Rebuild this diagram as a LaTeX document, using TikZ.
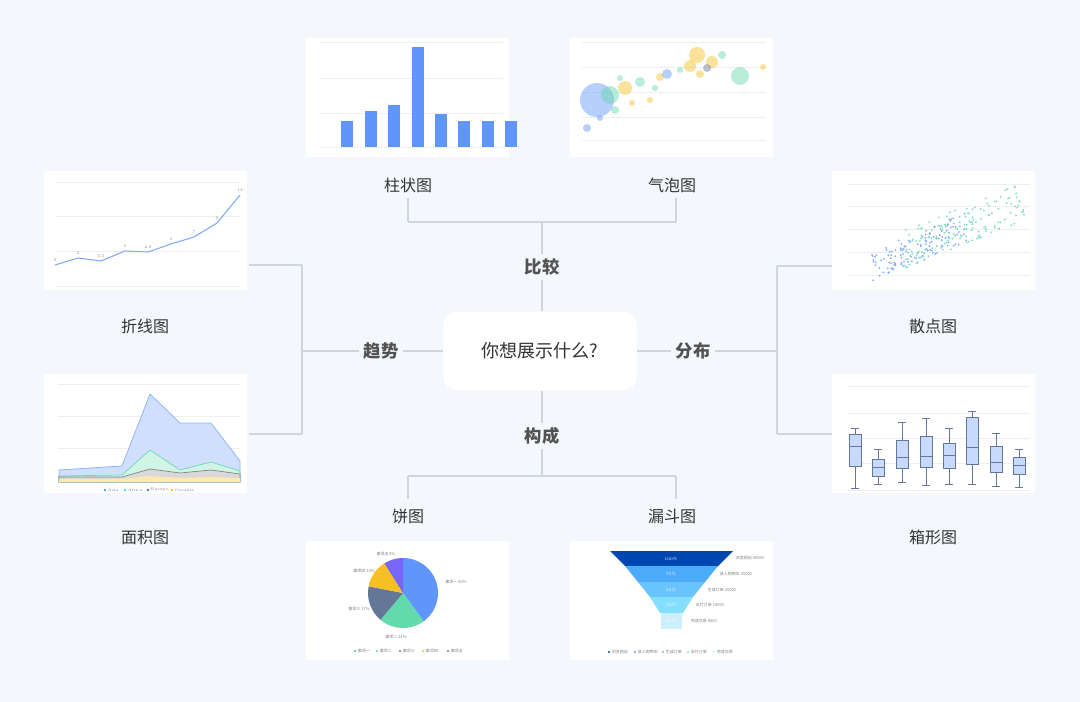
\documentclass[tikz,border=0pt]{standalone}
\usepackage{fontspec}
\newfontfamily\cjk{Noto Sans CJK SC}
\definecolor{bgc}{HTML}{F4F7FB}
\definecolor{linec}{HTML}{CFD5DC}
\definecolor{txt}{HTML}{333333}
\definecolor{cblue}{HTML}{6096FA}
\definecolor{cgreen}{HTML}{62DAAB}
\definecolor{cgray}{HTML}{657798}
\definecolor{cyellow}{HTML}{F6C022}
\definecolor{cpurple}{HTML}{7666F9}
\definecolor{grid}{HTML}{EEEEEE}
\tikzset{
  panel/.style={fill=white, draw=none},
  conn/.style={draw=linec, line width=0.9pt},
  cat/.style={font=\cjk\fontsize{13}{13}\selectfont\bfseries, text=txt!85, fill=bgc, inner sep=3pt},
  chartname/.style={font=\cjk\fontsize{12}{12}\selectfont, text=txt},
  tiny/.style={font=\fontsize{3}{3}\selectfont, text=gray, inner sep=0.5pt},
  tinycn/.style={font=\cjk\fontsize{3}{3}\selectfont, text=gray, inner sep=0.5pt},
}
\begin{document}
\begin{tikzpicture}[x=0.75pt, y=-0.75pt]
\fill[bgc] (0,0) rectangle (1080,702);
\useasboundingbox (0,0) rectangle (1080,702);

% panels
\foreach \px/\py in {306/38, 570/38, 44/171, 44/374, 832/171, 832/374, 306/541, 570/541}
  \fill[panel] (\px,\py) rectangle ++(203,119);

% centre and categories
\node[fill=white, rounded corners=10pt, minimum width=145pt, minimum height=59pt,
  font=\cjk\fontsize{13.5}{13.5}\selectfont, text=txt] (center) at (540,351) {你想展示什么?};
\node[cat] (cmp) at (542,267) {比较};
\node[cat] (comp) at (542,436) {构成};
\node[cat] (trend) at (381,351) {趋势};
\node[cat] (dist) at (693,351) {分布};

\node[chartname] (barlbl) at (408,185) {柱状图};
\node[chartname] (bublbl) at (672,185) {气泡图};
\node[chartname] (pielbl) at (408,516) {饼图};
\node[chartname] (funlbl) at (672,516) {漏斗图};
\node[chartname] (linelbl) at (145,326) {折线图};
\node[chartname] (arealbl) at (145,537) {面积图};
\node[chartname] (scatlbl) at (933,326) {散点图};
\node[chartname] (boxlbl) at (933,537) {箱形图};

\coordinate (tj) at (542,222);
\coordinate (tl) at (408,222); \coordinate (tr) at (676,222);
\coordinate (bj) at (542,476);
\coordinate (bl) at (408,476); \coordinate (br) at (676,476);
\coordinate (lj) at (302,351);
\coordinate (lt) at (302,265); \coordinate (lb) at (302,434);
\coordinate (rj) at (777,351);
\coordinate (rt) at (777,266); \coordinate (rb) at (777,434);

\draw[conn] (center.north -| cmp) -- (cmp.south);
\draw[conn] (cmp.north) -- (tj);
\draw[conn] (tl) -- (tr);
\draw[conn] (tl) -- (408,198);
\draw[conn] (tr) -- (676,198);
\draw[conn] (center.south -| comp) -- (comp.north);
\draw[conn] (comp.south) -- (bj);
\draw[conn] (bl) -- (br);
\draw[conn] (bl) -- (408,499);
\draw[conn] (br) -- (676,499);
\draw[conn] (center.west) -- (trend.east);
\draw[conn] (trend.west) -- (lj);
\draw[conn] (lt) -- (lb);
\draw[conn] (lt) -- (249,265);
\draw[conn] (lb) -- (249,434);
\draw[conn] (center.east) -- (dist.west);
\draw[conn] (dist.east) -- (rj);
\draw[conn] (rt) -- (rb);
\draw[conn] (rt) -- (832,266);
\draw[conn] (rb) -- (832,434);

% bar chart
\foreach \gy in {42,78,113,147} \draw[grid, line width=0.4pt] (320,\gy) -- (503,\gy);
\foreach[count=\i] \h in {121,111,105,47,114,121,121,121}
  \fill[cblue] ({318+23.4*\i},\h) rectangle ++(12,{147-\h});

% bubble chart
\foreach \gy in {42,67,92,117,140} \draw[grid, line width=0.4pt] (582,\gy) -- (766,\gy);
\foreach \bx/\by/\br/\bc in {597/100/17/cblue, 610/95/9/cgreen, 625/88/7/cyellow, 587/128/4/cblue,
  640/82/5/cgreen, 660/77/4/cyellow, 667/74/5/cblue, 690/66/6/cyellow, 697/55/8/cyellow,
  712/62/6/cyellow, 707/68/4/cgray, 740/76/9/cgreen, 680/70/3/cgreen, 722/55/4/cgreen,
  650/100/3/cyellow, 632/103/3/cyellow, 615/110/4/cgreen, 600/118/3/cblue, 763/67/3/cyellow,
  655/88/3/cgreen, 700/74/4/cyellow, 620/78/3/cgreen}
  \fill[\bc, opacity=0.45] (\bx,\by) circle (\br);

% line chart
\foreach \gy in {182,216,251,286} \draw[grid, line width=0.4pt] (55,\gy) -- (240,\gy);
\draw[cblue!80, line width=0.8pt] (55,265) -- (78,258) -- (101,261) -- (125,251) -- (148,252)
  -- (171,244) -- (194,237) -- (217,223) -- (240,195);
\foreach \lx/\ly/\lv in {55/265/3, 78/258/4, 101/261/3.5, 125/251/5, 148/252/4.8,
  171/244/6, 194/237/7, 217/223/9, 240/195/13}
  \node[tiny] (v\lx) at (\lx,{\ly-5}) {\lv};

% area chart
\foreach \gy in {384,416,448,481} \draw[grid, line width=0.4pt] (58,\gy) -- (240,\gy);
\fill[cblue!30, draw=cblue!70, line width=0.6pt] (59,470) -- (122,466) -- (150,394) -- (180,423) -- (211,423) -- (240,461) -- (240,482) -- (59,482) -- cycle;
\fill[cgreen!30, draw=cgreen, line width=0.5pt] (59,476) -- (122,475) -- (150,450) -- (180,470) -- (211,462) -- (240,471) -- (240,482) -- (59,482) -- cycle;
\fill[gray!30, draw=gray, line width=0.5pt] (59,477) -- (122,477) -- (150,469) -- (180,473) -- (211,470) -- (240,474) -- (240,482) -- (59,482) -- cycle;
\fill[cyellow!35] (59,479) -- (122,479) -- (150,476) -- (180,478) -- (211,477) -- (240,478) -- (240,482) -- (59,482) -- cycle;
\foreach \ax/\ac/\an in {105/cblue/Asia, 125/cgreen/Africa, 148/cgray/Europe, 172/cyellow/Oceania}
  {\fill[\ac] (\ax,490) circle (1.3); \node[tiny, anchor=west] (a\an) at ({\ax+2},490) {\an};}

% scatter chart
\foreach \gy in {184,206,229,252,275} \draw[grid, line width=0.4pt] (848,\gy) -- (1030,\gy);
\pgfmathsetseed{11}
\foreach \k in {1,...,130} {
  \pgfmathsetmacro\sx{872+95*rnd}
  \pgfmathsetmacro\sy{282-(\sx-870)*0.42-30*rnd}
  \fill[cblue!80] (\sx,\sy) circle (1);
}
\foreach \k in {1,...,150} {
  \pgfmathsetmacro\sx{905+120*rnd}
  \pgfmathsetmacro\sy{270-(\sx-900)*0.4-38*rnd}
  \fill[cgreen!85] (\sx,\sy) circle (1);
}

% box chart
\foreach \gy in {386,413,438,463,490} \draw[grid, line width=0.4pt] (848,\gy) -- (1030,\gy);
\foreach \bx/\wl/\ql/\md/\qh/\wh in {855/488/466/446/434/428, 878/484/476/467/459/449, 902/482/468/457/440/422,
  926/485/467/456/436/418, 949/484/468/455/443/428, 972/484/464/447/417/411, 996/486/472/462/446/433, 1019/487/474/465/457/449}
{
  \draw[cgray, line width=0.5pt] (\bx,\wl) -- (\bx,\ql) (\bx,\qh) -- (\bx,\wh)
    ({\bx-4},\wl) -- ({\bx+4},\wl) ({\bx-4},\wh) -- ({\bx+4},\wh);
  \filldraw[fill=cblue!35, draw=cgray, line width=0.5pt] ({\bx-6},\ql) rectangle ({\bx+6},\qh);
  \draw[cgray, line width=0.5pt] ({\bx-6},\md) -- ({\bx+6},\md);
}

% pie chart
\begin{scope}[shift={(403,593)}]
  \fill[cblue] (0,0) -- (0,-35) arc[start angle=-90, end angle=54, radius=35] -- cycle;
  \fill[cgreen] (0,0) -- (54:35) arc[start angle=54, end angle=130, radius=35] -- cycle;
  \fill[cgray] (0,0) -- (130:35) arc[start angle=130, end angle=191, radius=35] -- cycle;
  \fill[cyellow] (0,0) -- (191:35) arc[start angle=191, end angle=238, radius=35] -- cycle;
  \fill[cpurple] (0,0) -- (238:35) arc[start angle=238, end angle=270, radius=35] -- cycle;
\end{scope}
\node[tinycn] (p1) at (456,582) {事项一 40\%};
\node[tinycn] (p2) at (396,637) {事项二 21\%};
\node[tinycn] (p3) at (359,609) {事项三 17\%};
\node[tinycn] (p4) at (364,571) {事项四 13\%};
\node[tinycn] (p5) at (386,554) {事项五 9\%};
\foreach \lx/\lc/\ln in {355/cblue/事项一, 377/cgreen/事项二, 400/cgray/事项三, 423/cyellow/事项四, 448/cpurple/事项五}
  {\fill[\lc] (\lx,651) circle (1.2); \node[tinycn, anchor=west] (l\lx) at ({\lx+2},651) {\ln};}

% funnel chart
\fill[blue!60!cyan!70!black] (610,551) -- (733,551) -- (718,566) -- (625,566) -- cycle;
\fill[cblue!80!cyan] (625,566) -- (718,566) -- (705,582) -- (638,582) -- cycle;
\fill[cblue!70!cyan!80] (638,582) -- (705,582) -- (693,597) -- (650,597) -- cycle;
\fill[cblue!50!cyan!60] (650,597) -- (693,597) -- (683,613) -- (660,613) -- cycle;
\fill[cyan!20] (661,613) -- (682,613) -- (682,629) -- (661,629) -- cycle;
\foreach \fy/\fp in {559/100\%, 574/75\%, 590/50\%, 605/30\%, 621/10\%}
  \node[tiny, text=white] (f\fy) at (671,\fy) {\fp};
\node[tinycn, anchor=west] (fl1) at (735,558) {浏览网站 50000};
\node[tinycn, anchor=west] (fl2) at (719,574) {放入购物车 35000};
\node[tinycn, anchor=west] (fl3) at (707,590) {生成订单 25000};
\node[tinycn, anchor=west] (fl4) at (695,605) {支付订单 15000};
\node[tinycn, anchor=west] (fl5) at (690,621) {完成交易 8000};
\foreach \lx/\lc/\ln in {609/blue!60!cyan!70!black/浏览网站, 635/cblue!80!cyan/放入购物车, 663/cblue!70!cyan!80/生成订单, 688/cblue!50!cyan!60/支付订单, 714/cyan!20/完成交易}
  {\fill[\lc] (\lx,652) circle (1.2); \node[tinycn, anchor=west] (m\lx) at ({\lx+2},652) {\ln};}
\end{tikzpicture}
\end{document}
